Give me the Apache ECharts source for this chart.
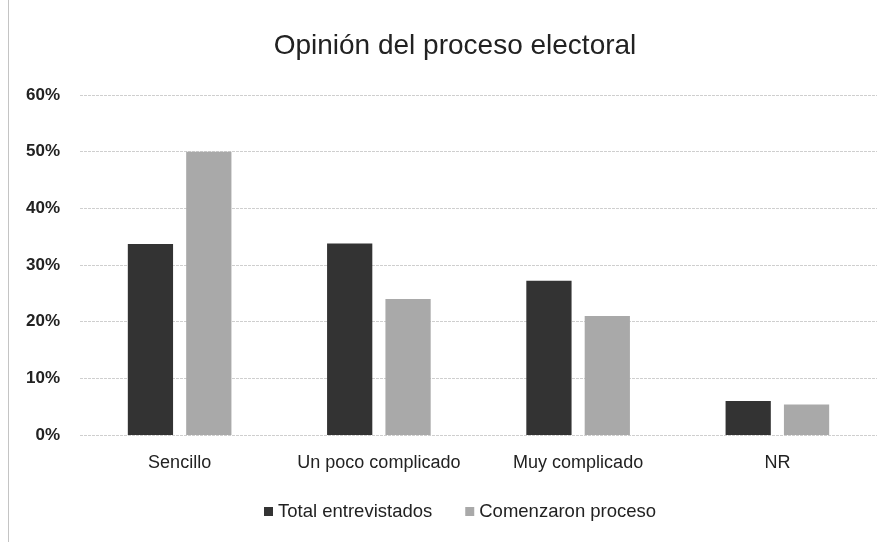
<!DOCTYPE html>
<html><head><meta charset="utf-8">
<script src="https://cdn.jsdelivr.net/npm/echarts@6/dist/echarts.min.js"></script>
<style>html,body{margin:0;padding:0;background:#fff}#c{width:890px;height:542px}</style>
</head><body><div id="c"></div>
<script>
const categories = ['Sencillo', 'Un poco complicado', 'Muy complicado', 'NR'];
const totalEntrevistados = [33.7, 33.8, 27.2, 6.0];
const comenzaronProceso = [50.0, 24.0, 21.0, 5.4];
const yTicks = [0, 10, 20, 30, 40, 50, 60];

const sans = "'Liberation Sans', Arial, sans-serif";
const chart = echarts.init(document.getElementById('c'));
chart.setOption({
  animation: false,
  backgroundColor: '#fff',
  title: { text: 'Opinión del proceso electoral', left: 450, top: 27, textAlign: 'center',
    textStyle: { fontFamily: sans, fontSize: 28, fontWeight: 'normal', color: '#222' } },
  grid: { left: 80, right: 13, top: 95, bottom: 107, containLabel: false },
  legend: { bottom: 16, left: 259, itemWidth: 9, itemHeight: 9, itemGap: 33, icon: 'rect',
    textStyle: { fontFamily: sans, fontSize: 18.5, color: '#222' },
    data: ['Total entrevistados', 'Comenzaron proceso'] },
  xAxis: { type: 'category', data: categories,
    axisLine: { show: false }, axisTick: { show: false },
    axisLabel: { interval: 0, fontFamily: sans, fontSize: 18, color: '#222', margin: 19 } },
  yAxis: { type: 'value', min: yTicks[0], max: yTicks[yTicks.length - 1], interval: 10,
    axisLine: { show: false }, axisTick: { show: false },
    axisLabel: { formatter: v => v + '%', fontFamily: sans, fontSize: 17, color: '#222', margin: 20, fontWeight: 'bold' },
    splitLine: { lineStyle: { color: '#cfcfcf', width: 1, type: [3, 1] } } },
  series: [
    { name: 'Total entrevistados', type: 'bar', data: totalEntrevistados, barGap: '29%', barCategoryGap: '48%',
      itemStyle: { color: '#333333' } },
    { name: 'Comenzaron proceso', type: 'bar', data: comenzaronProceso,
      itemStyle: { color: '#a9a9a9' } }
  ],
  graphic: [{ type: 'line', shape: { x1: 8.5, y1: 0, x2: 8.5, y2: 542 }, style: { stroke: '#c4c4c4', lineWidth: 1 } }]
});
</script></body></html>
